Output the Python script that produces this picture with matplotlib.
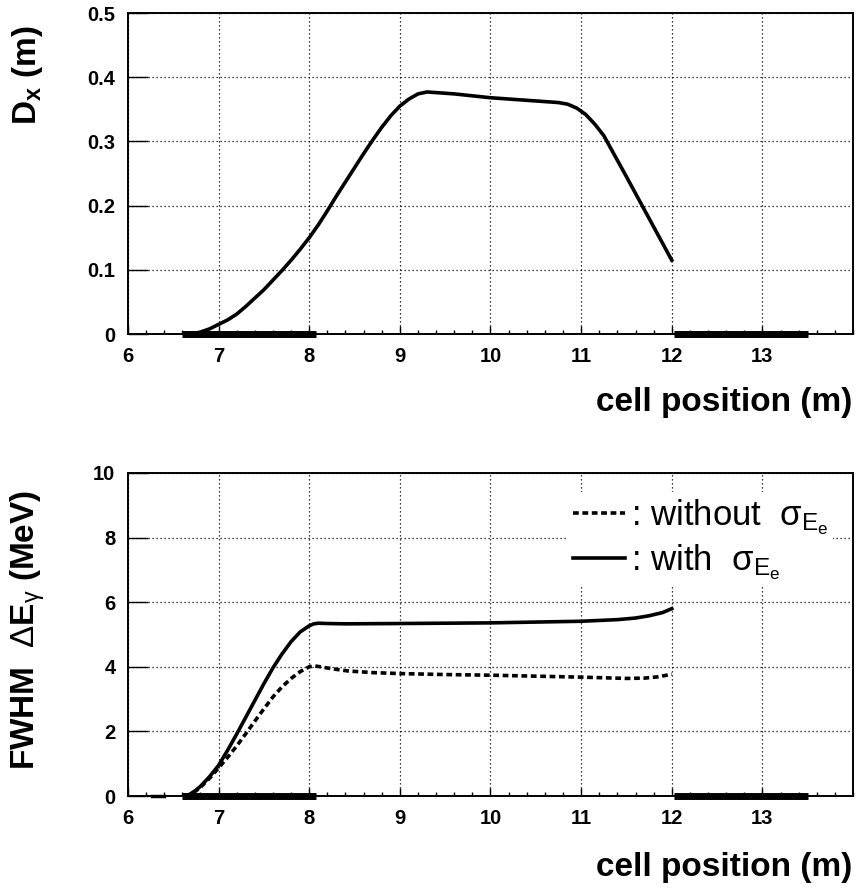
import numpy as np
import matplotlib
matplotlib.use("Agg")
import matplotlib.pyplot as plt
from matplotlib.lines import Line2D

plt.rcParams['font.family'] = ['Liberation Sans', 'DejaVu Sans']
plt.rcParams['mathtext.fontset'] = 'custom'
plt.rcParams['mathtext.rm'] = 'Liberation Sans'
plt.rcParams['mathtext.bf'] = 'Liberation Sans:bold'
plt.rcParams['mathtext.it'] = 'Liberation Sans:italic'

# dispersion along the cell
dx_pos = [6.70, 6.8, 6.9, 7.0, 7.1, 7.2, 7.3, 7.4, 7.5, 7.6, 7.7, 7.8, 7.9, 8.0, 8.1,
          8.2, 8.3, 8.4, 8.5, 8.6, 8.7, 8.8, 8.9, 9.0, 9.1, 9.2, 9.3, 9.4, 9.6, 10.0,
          10.5, 10.75, 10.85, 10.95, 11.05, 11.15, 11.25, 11.5, 11.75, 12.0]
dx_val = [0.0, 0.003, 0.008, 0.015, 0.022, 0.031, 0.043, 0.056, 0.069, 0.084, 0.099,
          0.115, 0.132, 0.150, 0.170, 0.192, 0.215, 0.237, 0.259, 0.281, 0.302, 0.322,
          0.340, 0.355, 0.366, 0.374, 0.377, 0.376, 0.374, 0.368, 0.363, 0.3605, 0.358,
          0.352, 0.342, 0.327, 0.309, 0.245, 0.180, 0.115]

# FWHM of photon energy, with electron energy spread
with_pos = [6.63, 6.68, 6.75, 6.8, 6.9, 7.0, 7.1, 7.2, 7.3, 7.4, 7.5, 7.6, 7.7, 7.8,
            7.9, 8.0, 8.05, 8.1, 8.2, 8.4, 9.0, 10.0, 11.0, 11.4, 11.6, 11.75, 11.9, 12.0]
with_val = [0.0, 0.05, 0.18, 0.30, 0.60, 0.95, 1.42, 1.92, 2.44, 2.96, 3.48, 3.97, 4.40,
            4.78, 5.08, 5.27, 5.33, 5.35, 5.34, 5.33, 5.34, 5.36, 5.41, 5.46, 5.51, 5.58,
            5.68, 5.80]

# ... and without it
wo_pos = [6.63, 6.7, 6.8, 6.9, 7.0, 7.1, 7.2, 7.3, 7.4, 7.5, 7.6, 7.7, 7.8, 7.9, 8.0,
          8.05, 8.1, 8.25, 8.43, 8.7, 9.0, 9.5, 10.0, 10.5, 11.0, 11.5, 11.7, 11.85, 12.0]
wo_val = [0.0, 0.05, 0.27, 0.55, 0.87, 1.20, 1.55, 1.93, 2.32, 2.70, 3.07, 3.38, 3.64,
          3.85, 4.00, 4.03, 4.01, 3.94, 3.87, 3.82, 3.79, 3.76, 3.74, 3.71, 3.68, 3.64,
          3.65, 3.69, 3.77]

# magnet regions drawn on the axis
magnets = [(6.6, 8.07), (12.02, 13.5)]
short_dash = (6.26, 6.40)

xlim = (6, 14)
xticks = [6, 7, 8, 9, 10, 11, 12, 13]
top_yticks = [0, 0.1, 0.2, 0.3, 0.4, 0.5]
top_ylabels = ['0', '0.1', '0.2', '0.3', '0.4', '0.5']
bot_yticks = [0, 2, 4, 6, 8, 10]

W, H = 856, 892
fig = plt.figure(figsize=(W / 100, H / 100), dpi=100)
ax1 = fig.add_axes([128 / W, 1 - 334 / H, 725 / W, 321 / H])
ax2 = fig.add_axes([128 / W, 1 - 796 / H, 725 / W, 323 / H])


def style(ax, ylim, yticks, ylabels):
    ax.set_xlim(*xlim)
    ax.set_ylim(*ylim)
    ax.set_xticks(xticks)
    ax.set_xticks(np.arange(6, 14.01, 0.2), minor=True)
    ax.set_yticks(yticks)
    ax.set_yticklabels(ylabels)
    ax.grid(True, which='major', color='black', linestyle=(0, (1, 2.2)), linewidth=0.9)
    ax.tick_params(axis='x', which='major', direction='in', length=6, width=1,
                   labelsize=14.5, pad=9)
    ax.tick_params(axis='x', which='minor', direction='in', length=3, width=1)
    ax.tick_params(axis='y', which='major', direction='in', length=14.5, width=1,
                   labelsize=14.5, pad=9)
    for lab in ax.get_xticklabels() + ax.get_yticklabels():
        lab.set_fontweight('bold')
    for s in ax.spines.values():
        s.set_linewidth(1.4)
    for a, b in magnets:
        ax.plot([a, b], [ylim[0], ylim[0]], color='black', lw=5, solid_capstyle='butt',
                clip_on=False, zorder=5)


style(ax1, (0, 0.5), top_yticks, top_ylabels)
ax1.plot(dx_pos, dx_val, color='black', lw=2.6, zorder=4)

style(ax2, (0, 10), bot_yticks, [str(v) for v in bot_yticks])
ax2.plot(short_dash, [0, 0], color='black', lw=2.5, clip_on=False, zorder=5)
ax2.plot(wo_pos, wo_val, color='black', lw=2.6, linestyle=(0, (1.6, 1.0)), zorder=4)
ax2.plot(with_pos, with_val, color='black', lw=2.6, zorder=4)

handles = [Line2D([], [], color='black', lw=2.6, linestyle=(0, (1.6, 1.0))),
           Line2D([], [], color='black', lw=2.6)]
labels = [r': without  $\mathrm{\sigma}_{\mathrm{E}_{\mathrm{e}}}$',
          r': with  $\mathrm{\sigma}_{\mathrm{E}_{\mathrm{e}}}$']
leg = ax2.legend(handles, labels, loc='upper left', bbox_to_anchor=(0.607, 0.94),
                 borderaxespad=0, frameon=True, fancybox=False, framealpha=1,
                 edgecolor='none', facecolor='white', fontsize=25, handlelength=1.5,
                 handletextpad=0.15, labelspacing=0.15, borderpad=0.15)

fig.text(28 / W, 1 - 25 / H, r'D$_{\mathbf{x}}$ (m)', rotation=90, ha='center', va='top',
         fontsize=24, fontweight='bold')
fig.text(28 / W, 1 - 490 / H, r'FWHM  $\mathrm{\Delta}\mathbf{E}_{\mathrm{\gamma}}$ (MeV)',
         rotation=90, ha='center', va='top', fontsize=24, fontweight='bold')
fig.text(852 / W, 1 - 387 / H, 'cell position (m)', ha='right', va='top',
         fontsize=24, fontweight='bold')
fig.text(852 / W, 1 - 852 / H, 'cell position (m)', ha='right', va='top',
         fontsize=24, fontweight='bold')

fig.savefig('out.png', dpi=100)
